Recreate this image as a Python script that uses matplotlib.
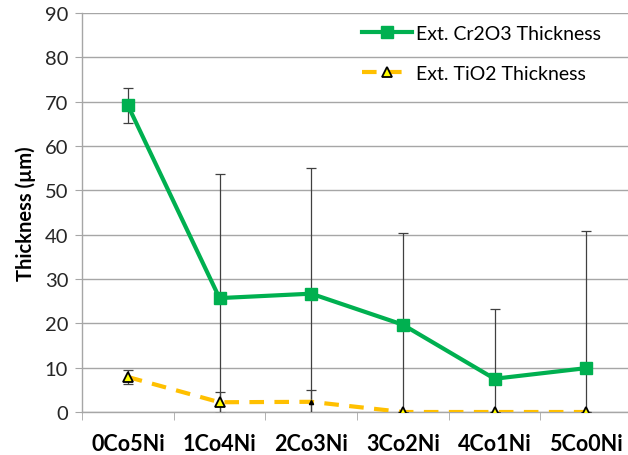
import numpy as np
import matplotlib.pyplot as plt

plt.rcParams['font.family'] = ['Lato', 'DejaVu Sans']

samples = ["0Co5Ni", "1Co4Ni", "2Co3Ni", "3Co2Ni", "4Co1Ni", "5Co0Ni"]
cr2o3 = [69.2, 25.7, 26.7, 19.7, 7.5, 9.9]
cr2o3_err = [3.9, 28.1, 28.3, 20.8, 15.7, 31.0]
tio2 = [7.9, 2.2, 2.3, 0.0, 0.0, 0.0]
tio2_err = [1.6, 2.4, 2.7, 0.0, 0.0, 0.0]

green = "#00B050"
amber = "#FFC000"
grey = "#A6A6A6"

x = np.arange(len(samples))

fig, ax = plt.subplots(figsize=(6.28, 4.56), dpi=100)
# plot area runs slightly past the right edge of the canvas
fig.subplots_adjust(left=0.1306, right=1.0064, bottom=0.0943, top=0.969)

ax.errorbar(x, cr2o3, yerr=cr2o3_err, fmt="none", ecolor="#404040",
            elinewidth=0.9, capsize=3.5, capthick=0.9, zorder=3)
ax.errorbar(x, tio2, yerr=tio2_err, fmt="none", ecolor="#404040",
            elinewidth=0.9, capsize=3.5, capthick=0.9, zorder=3)

ax.plot(x, cr2o3, color=green, lw=3, marker="s", ms=9,
        label="Ext. Cr2O3 Thickness", zorder=4)
# 2Co3Ni triangle is drawn tiny, the rest full size
full = [i for i in range(len(samples)) if i != 2]
ax.plot(x, tio2, color=amber, lw=3, ls=(0, (3.5, 2.5)), marker="^", ms=7,
        mfc="#FFFF00", mec="black", mew=1.3, markevery=full,
        label="Ext. TiO2 Thickness", zorder=4)
ax.plot(x[2], tio2[2], marker="^", ms=3, color="black", zorder=5)

ax.set_xlim(-0.5, len(samples) - 0.5)
ax.set_ylim(0, 90)
ax.set_yticks(np.arange(0, 91, 10))
ax.set_xticks(x)
ax.set_xticklabels(samples, fontsize=15.5, fontweight="bold")
ax.set_xticks(np.arange(-0.5, len(samples), 1), minor=True)
ax.tick_params(axis="x", which="major", length=0, pad=15)
ax.tick_params(axis="x", which="minor", length=6, color=grey, direction="out")
ax.tick_params(axis="y", labelsize=14.5, length=5, color=grey, pad=5,
               labelcolor="#262626")
ax.set_ylabel("Thickness (µm)", fontsize=14.5, fontweight="bold", labelpad=6)

ax.grid(axis="y", color=grey, lw=1)
ax.set_axisbelow(True)
for side in ["top", "right"]:
    ax.spines[side].set_visible(False)
for side in ["left", "bottom"]:
    ax.spines[side].set_color(grey)
    ax.spines[side].set_linewidth(1)

ax.legend(loc="upper right", frameon=False, fontsize=14, labelspacing=1.2,
          handlelength=2.6, handletextpad=0.2, borderaxespad=0.2,
          bbox_to_anchor=(0.965, 1.0))

fig.savefig("out.png", dpi=100)
